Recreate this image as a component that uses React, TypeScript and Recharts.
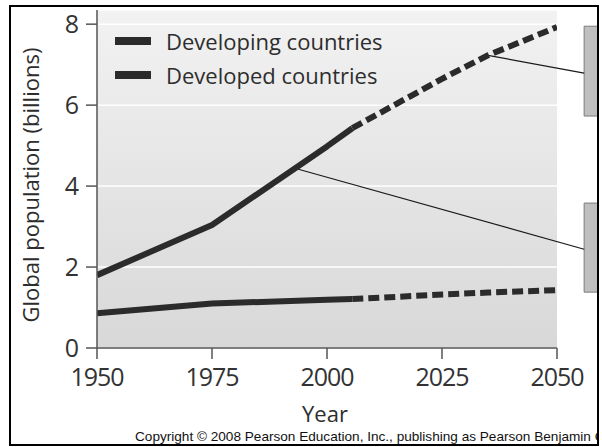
import React from "react";
import {
  LineChart,
  Line,
  XAxis,
  YAxis,
  CartesianGrid,
  Legend,
  ReferenceLine,
  ReferenceArea,
} from "recharts";

// years where the measured part ends and the projection starts
const solidYears = [1950, 1975, 2000, 2005.5];
const projectedYears = [2005.5, 2025, 2035, 2050];

const developingSolid = [1.8, 3.04, 4.98, 5.43];
const developingProjected = [5.43, 6.65, 7.23, 7.93];
const developedSolid = [0.86, 1.1, 1.19, 1.21];
const developedProjected = [1.21, 1.32, 1.37, 1.43];

const xTicks = [1950, 1975, 2000, 2025, 2050];
const yTicks = [0, 2, 4, 6, 8];

const seriesNames = ["Developing countries", "Developed countries"];

// callout lines (from a point on the curve to the side box) and the boxes
const calloutStart = [
  { x: 1993, y: 4.44 },
  { x: 2035, y: 7.23 },
];
const calloutEnd = [
  { x: 2055.9, y: 2.44 },
  { x: 2055.9, y: 6.79 },
];
const calloutBoxes = [
  { x1: 2055.9, x2: 2059.6, y1: 1.38, y2: 3.58 },
  { x1: 2055.9, x2: 2059.6, y1: 5.73, y2: 7.95 },
];

const toPoints = (years: number[], values: number[]) =>
  years.map((year, i) => ({ year, v: values[i] }));

const INK = "#2b2b2b";
const TEXT = "#2d2d2d";
const FONT = "'Open Sans', sans-serif";

const LegendContent = ({ payload }: any) => {
  const items = (payload || [])
    .filter((e: any) => e.type !== "none" && seriesNames.includes(e.value))
    .sort((a: any, b: any) => seriesNames.indexOf(a.value) - seriesNames.indexOf(b.value));
  return (
    <div style={{ fontFamily: FONT, fontSize: 22, color: TEXT }}>
      {items.map((entry: any) => (
        <div
          key={entry.value}
          style={{ display: "flex", alignItems: "center", height: 34, whiteSpace: "nowrap" }}
        >
          <div style={{ width: 36, height: 8, background: INK, marginRight: 15 }} />
          <span>{entry.value}</span>
        </div>
      ))}
    </div>
  );
};

export default function App() {
  const tickStyle = { fill: "#333", fontSize: 25, fontFamily: FONT, letterSpacing: -1 };
  return (
    <div style={{ position: "absolute", left: 0, top: 0, width: 602, height: 447, background: "#fff" }}>
      <svg width={0} height={0} style={{ position: "absolute" }}>
        <defs>
          <linearGradient id="plotBg" x1="0" y1="0" x2="0" y2="1">
            <stop offset="0%" stopColor="#f2f2f2" />
            <stop offset="100%" stopColor="#d8d8d8" />
          </linearGradient>
        </defs>
      </svg>
      <div
        style={{
          position: "absolute",
          left: 11,
          top: 7,
          width: 586,
          height: 437,
          overflow: "hidden",
        }}
      >
        <div style={{ position: "absolute", left: -11, top: -7, width: 602, height: 447 }}>
          <LineChart
            width={602}
            height={447}
            margin={{ top: 10, right: 45, bottom: 69, left: 0 }}
          >
            <CartesianGrid
              vertical={false}
              stroke="#ffffff"
              strokeWidth={1.5}
              fill="url(#plotBg)"
              fillOpacity={1}
            />
            <XAxis
              type="number"
              dataKey="year"
              domain={[1950, 2050]}
              ticks={xTicks}
              height={30}
              allowDataOverflow
              stroke="#555"
              strokeWidth={1.5}
              tickSize={11}
              tickMargin={9}
              tick={tickStyle}
            />
            <YAxis
              type="number"
              domain={[0, 8.35]}
              ticks={yTicks}
              width={97}
              allowDataOverflow
              stroke="#555"
              strokeWidth={1.5}
              tickSize={11}
              tickMargin={8}
              tick={tickStyle}
            />
            <Legend
              layout="vertical"
              align="center"
              verticalAlign="middle"
              wrapperStyle={{ left: 115, top: 24, width: 320 }}
              content={<LegendContent />}
            />
            {calloutBoxes.map((b, i) => (
              <ReferenceArea
                key={"box" + i}
                x1={b.x1}
                x2={b.x2}
                y1={b.y1}
                y2={b.y2}
                ifOverflow="visible"
                fill="#bfbfbf"
                fillOpacity={1}
                stroke="#7d7d7d"
                strokeWidth={1}
              />
            ))}
            {calloutStart.map((s, i) => (
              <ReferenceLine
                key={"callout" + i}
                segment={[s, calloutEnd[i]]}
                ifOverflow="visible"
                stroke="#1a1a1a"
                strokeWidth={1.2}
              />
            ))}
            <Line
              data={toPoints(solidYears, developingSolid)}
              dataKey="v"
              name={seriesNames[0]}
              stroke={INK}
              strokeWidth={6}
              strokeLinejoin="round"
              dot={false}
              activeDot={false}
              isAnimationActive={false}
            />
            <Line
              data={toPoints(projectedYears, developingProjected)}
              dataKey="v"
              name="Developing (projected)"
              legendType="none"
              stroke={INK}
              strokeWidth={6}
              strokeDasharray="11 5"
              dot={false}
              activeDot={false}
              isAnimationActive={false}
            />
            <Line
              data={toPoints(solidYears, developedSolid)}
              dataKey="v"
              name={seriesNames[1]}
              stroke={INK}
              strokeWidth={6}
              strokeLinejoin="round"
              dot={false}
              activeDot={false}
              isAnimationActive={false}
            />
            <Line
              data={toPoints(projectedYears, developedProjected)}
              dataKey="v"
              name="Developed (projected)"
              legendType="none"
              stroke={INK}
              strokeWidth={6}
              strokeDasharray="11 5"
              dot={false}
              activeDot={false}
              isAnimationActive={false}
            />
          </LineChart>
        </div>
        <div
          style={{
            position: "absolute",
            left: 135 - 11,
            top: 430 - 7,
            fontFamily: "'Liberation Sans', Arial, sans-serif",
            fontSize: 13.6,
            lineHeight: "13px",
            color: "#111",
            whiteSpace: "nowrap",
          }}
        >
          Copyright © 2008 Pearson Education, Inc., publishing as Pearson Benjamin Cummings.
        </div>
      </div>
      <div
        style={{
          position: "absolute",
          left: 225,
          top: 400,
          width: 200,
          textAlign: "center",
          fontFamily: FONT,
          fontSize: 22,
          lineHeight: "26px",
          color: TEXT,
        }}
      >
        Year
      </div>
      <div
        style={{
          position: "absolute",
          left: 30 - 160,
          top: 185 - 13,
          width: 320,
          height: 26,
          textAlign: "center",
          fontFamily: FONT,
          fontSize: 22,
          lineHeight: "26px",
          color: TEXT,
          transform: "rotate(-90deg)",
          whiteSpace: "nowrap",
        }}
      >
        Global population (billions)
      </div>
      <div
        style={{
          position: "absolute",
          left: 9,
          top: 5,
          width: 590,
          height: 441,
          border: "2px solid #000",
          boxSizing: "border-box",
          pointerEvents: "none",
        }}
      />
    </div>
  );
}
